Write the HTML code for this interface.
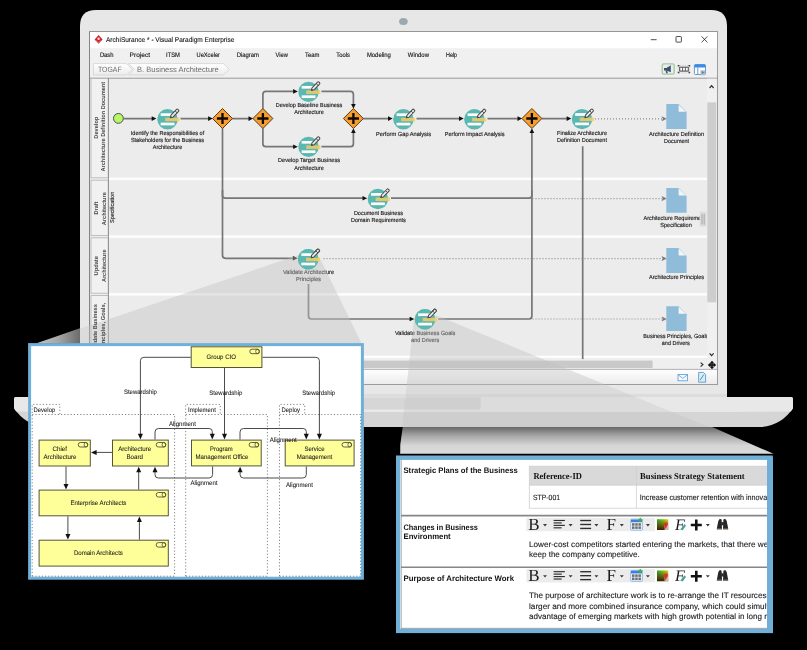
<!DOCTYPE html>
<html><head><meta charset="utf-8"><title>ArchiSurance - Visual Paradigm Enterprise</title>
<style>
html,body{margin:0;padding:0;background:#000;}
body{width:807px;height:650px;overflow:hidden;position:relative;font-family:"Liberation Sans",sans-serif;}
svg{position:absolute;left:0;top:0;display:block;will-change:transform;}
text{font-family:"Liberation Sans",sans-serif;fill:#222;text-rendering:geometricPrecision;}
.ser{font-family:"Liberation Serif",serif;}
.fl{fill:none;stroke:#767676;stroke-width:1.7;}
.dot{fill:none;stroke:#8c8c8c;stroke-width:1.2;stroke-dasharray:1 2;}
.lbl{font-size:5.9px;fill:#1a1a1a;stroke:#1a1a1a;stroke-width:0.14px;}
.lane{font-size:5.8px;font-weight:bold;fill:#4a4a4a;}
.lanen{font-size:5.7px;fill:#2a2a2a;stroke:#2a2a2a;stroke-width:0.12px;font-variant-ligatures:none;}
.menu{font-size:6.5px;fill:#111;stroke:#111;stroke-width:0.12px;}
.am{font-size:6.4px;fill:#1e1e1e;stroke:#1e1e1e;stroke-width:0.08px;}
.gdot{fill:none;stroke:#777;stroke-width:0.9;stroke-dasharray:1.2 2;}
.rl{fill:none;stroke:#4a4a4a;stroke-width:1;}
.pb{font-size:8px;font-weight:bold;fill:#111;}
.pt{font-size:8.04px;fill:#1c1c1c;stroke:#1c1c1c;stroke-width:0.12px;}
.ps{font-size:9px;font-weight:bold;fill:#111;font-family:"Liberation Serif",serif;}
</style></head><body>
<svg width="807" height="650" viewBox="0 0 807 650">
<defs>
<linearGradient id="gw1" x1="0" y1="0" x2="1" y2="0"><stop offset="0" stop-color="#c6c6c6"/><stop offset="0.5" stop-color="#a6a6a6"/><stop offset="1" stop-color="#6a6a6a"/></linearGradient>
<linearGradient id="gw2" x1="0" y1="0" x2="0" y2="1"><stop offset="0" stop-color="#646464"/><stop offset="0.35" stop-color="#a8a8a8"/><stop offset="0.7" stop-color="#d6d6d6"/><stop offset="1" stop-color="#dadada"/></linearGradient>
<linearGradient id="gst" x1="0" y1="0" x2="0" y2="1"><stop offset="0" stop-color="#ffffff"/><stop offset="1" stop-color="#ececec"/></linearGradient>
<linearGradient id="gbc" x1="0" y1="0" x2="0" y2="1"><stop offset="0" stop-color="#ffffff"/><stop offset="1" stop-color="#ececec"/></linearGradient>
<clipPath id="cpLaptop"><path d="M80,397 V26 Q80,10 96,10 H711 Q727,10 727,26 V397 H793 V408 Q782,425 761.6,427 H45.4 Q25,425 14,408 V397 Z"/></clipPath>
<clipPath id="cpWin"><rect x="89" y="31" width="629.5" height="354"/></clipPath>
<clipPath id="cpBezel"><path clip-rule="evenodd" d="M80,397 V26 Q80,10 96,10 H711 Q727,10 727,26 V397 H793 V408 Q782,425 761.6,427 H45.4 Q25,425 14,408 V397 Z M89,31 V385 H718.5 V31 Z"/></clipPath>
<clipPath id="cpHdr4"><rect x="91" y="296" width="17" height="63"/></clipPath>
<clipPath id="cpDiagram"><rect x="108.5" y="78.5" width="598.5" height="281"/></clipPath>
<clipPath id="cpP2"><rect x="401" y="459.5" width="366" height="169"/></clipPath>
<clipPath id="cpP1"><rect x="31" y="346" width="330" height="231"/></clipPath>
<g id="task">
  <circle cx="0" cy="0" r="10.2" fill="#5bb8b1"/>
  <rect x="-6.85" y="-5.95" width="13.8" height="2.7" fill="#fdfdfd"/>
  <rect x="-6.85" y="3.45" width="13.8" height="2.7" fill="#fdfdfd"/>
  <rect x="-2.25" y="-1.45" width="13.9" height="3.4" fill="#e3c76f"/>
  <rect x="10.2" y="-1.45" width="1.45" height="3.4" fill="#f3d862"/>
  <g transform="translate(2.95,-1.45) rotate(-46)">
    <path d="M0,0 L2.2,-1.4 L10.2,-1.4 Q11.2,-1.4 11.2,-0.6 L11.2,0.6 Q11.2,1.4 10.2,1.4 L2.2,1.4 Z" fill="#ececec" stroke="#484848" stroke-width="1" stroke-linejoin="round"/>
    <path d="M8.2,-1.4 V1.4" stroke="#484848" stroke-width="0.9" fill="none"/>
    <path d="M-0.3,0 L1.5,-1.0 L1.5,1.0 Z" fill="#484848"/>
  </g>
</g>
<g id="gate">
  <polygon points="0,-10 10,0 0,10 -10,0" fill="#f99d2c" stroke="#3f2c10" stroke-width="0.9" stroke-linejoin="miter"/>
  <path d="M-5.6,0 H5.6 M0,-5.6 V5.6" stroke="#0a0a0a" stroke-width="2.3" fill="none"/>
</g>
<g id="doc">
  <path d="M0,0 H12.3 L20.3,8 V24.9 H0 Z" fill="#8ebcd9"/>
  <path d="M12.3,0.6 V7.6 H19.6 Z" fill="#f3f6f8"/>
</g>
<g id="role">
  <rect x="0" y="0" width="9.6" height="4.5" rx="2.25" ry="2.25" fill="#ffffa6" stroke="#50502c" stroke-width="0.9"/>
  <ellipse cx="7.7" cy="2.25" rx="1.8" ry="2.25" fill="none" stroke="#50502c" stroke-width="0.8"/>
</g>
<g id="dd"><path d="M-2,-0.9 H2 L0,1.4 Z" fill="#3a3a3a"/></g>
</defs>

<polygon points="35.9,343.6 80.5,327.9 80.5,343.6" fill="url(#gw1)"/>
<polygon points="402.8,426.5 711,426.5 773.5,453.8 400.2,453.8 400.3,444.5" fill="url(#gw2)"/>
<path d="M80,398 V26 Q80,10 96,10 H711 Q727,10 727,26 V398 Z" fill="#e7e7e7"/>
<rect x="80" y="394" width="647" height="3" fill="#dddddd"/>
<ellipse cx="403.4" cy="21.5" rx="4.3" ry="3.5" fill="#9aa8b0"/>
<path d="M14,399 Q14,397 16,397 H791 Q793,397 793,399 V408 Q782,425 761.6,427 H45.4 Q25,425 14,408 Z" fill="#d5d5d5"/>
<path d="M14,399 Q14,397 16,397 H791 Q793,397 793,399 V408 Q792,410 790.8,411.6 L727,412 H80 L16.2,411.6 Q15,410 14,408 Z" fill="#e8e8e8"/>
<path d="M327,397.4 H480.6 V406.5 Q480.6,409.6 477.5,409.6 H330 Q327,409.6 327,406.5 Z" fill="#d6d6d6"/>
<rect x="89.5" y="31.5" width="628" height="353" fill="#f0f0f0" stroke="#868686" stroke-width="1"/>
<rect x="90" y="32" width="627.5" height="16.2" fill="#ffffff"/>
<g transform="translate(98.6,39.4)"><polygon points="0,-4.3 4,0 0,4.3 -4,0" fill="#d2232a"/><circle cx="0" cy="-0.6" r="1.2" fill="#fff" opacity="0.85"/><path d="M-2.6,1.2 L0,3.2 L2.6,1.2" stroke="#fff" stroke-width="0.5" fill="none" opacity="0.7"/></g>
<text x="106" y="42.1" textLength="128.4" lengthAdjust="spacingAndGlyphs" style="font-size:7px;fill:#141414;stroke:#141414;stroke-width:0.1px">ArchiSurance * - Visual Paradigm Enterprise</text>
<path d="M650.8,39.7 H656.6" stroke="#222" stroke-width="0.8"/>
<rect x="676" y="36.5" width="5.4" height="5.6" rx="0.7" fill="none" stroke="#222" stroke-width="0.8"/>
<path d="M701.6,36.4 L707.4,42.4 M707.4,36.4 L701.6,42.4" stroke="#222" stroke-width="0.8"/>
<text x="99.9" y="56.9" class="menu" textLength="13.6" lengthAdjust="spacingAndGlyphs">Dash</text>
<text x="129.6" y="56.9" class="menu" textLength="20.4" lengthAdjust="spacingAndGlyphs">Project</text>
<text x="166" y="56.9" class="menu" textLength="14" lengthAdjust="spacingAndGlyphs">ITSM</text>
<text x="196.5" y="56.9" class="menu" textLength="23.5" lengthAdjust="spacingAndGlyphs">UeXceler</text>
<text x="236.7" y="56.9" class="menu" textLength="22.3" lengthAdjust="spacingAndGlyphs">Diagram</text>
<text x="275.5" y="56.9" class="menu" textLength="12.3" lengthAdjust="spacingAndGlyphs">View</text>
<text x="305" y="56.9" class="menu" textLength="14.4" lengthAdjust="spacingAndGlyphs">Team</text>
<text x="336.3" y="56.9" class="menu" textLength="13.7" lengthAdjust="spacingAndGlyphs">Tools</text>
<text x="366.9" y="56.9" class="menu" textLength="24.0" lengthAdjust="spacingAndGlyphs">Modeling</text>
<text x="407.8" y="56.9" class="menu" textLength="21.2" lengthAdjust="spacingAndGlyphs">Window</text>
<text x="446" y="56.9" class="menu" textLength="11.1" lengthAdjust="spacingAndGlyphs">Help</text>
<path d="M93.5,63.6 H126.5 L132.2,69.3 L126.5,75 H93.5 Z" fill="url(#gbc)" stroke="#cfcfcf" stroke-width="0.7"/>
<path d="M128.5,63.6 H223.5 L229.3,69.3 L223.5,75 H128.5 L134.2,69.3 Z" fill="url(#gbc)" stroke="#cfcfcf" stroke-width="0.7"/>
<text x="97.9" y="72.4" textLength="23.8" lengthAdjust="spacingAndGlyphs" style="font-size:7.7px;fill:#6c6c6c">TOGAF</text>
<text x="137" y="72.4" textLength="81.8" lengthAdjust="spacingAndGlyphs" style="font-size:7.7px;fill:#6c6c6c">B. Business Architecture</text>
<rect x="662.2" y="63.9" width="12" height="10.2" rx="1.6" fill="#e9eee9" stroke="#a3c9a3" stroke-width="1.4"/>
<path d="M664,68 H666.4 L670.8,65.3 V72.2 L666.4,70.4 H664 Z" fill="#3c5174"/><path d="M665.4,70.2 L666.2,73.2 H667.8 L667.2,70.4 Z" fill="#3c5174"/>
<rect x="678.3" y="65.3" width="11.3" height="7.6" fill="none" stroke="#b8b8b8" stroke-width="0.7" stroke-dasharray="1 1.2"/>
<path d="M678.3,66.5 V65.5 H679.4 M688.5,65.5 H689.6 V66.5 M689.6,71.8 V72.8 H688.5 M679.4,72.8 H678.3 V71.8" fill="none" stroke="#3a3a3a" stroke-width="1.1"/>
<rect x="679.7" y="67.2" width="8.6" height="3.9" fill="#fff" stroke="#555" stroke-width="1.1"/><path d="M682.6,67.2 V71.1 M685.4,67.2 V71.1" stroke="#555" stroke-width="0.9"/>
<rect x="694.4" y="64.7" width="11.1" height="9.8" rx="0.9" fill="#fdfdfd" stroke="#5b90c0" stroke-width="0.9"/><path d="M694.4,67.6 V65.6 Q694.4,64.3 695.7,64.3 H704.2 Q705.5,64.3 705.5,65.6 V67.6 Z" fill="#3b8bea"/><path d="M697.8,67.6 V74.4" stroke="#5b90c0" stroke-width="0.9"/><rect x="700.4" y="70.3" width="4.8" height="5" fill="#b4bcc6"/><path d="M701.9,70.9 L704.6,72.5 L701.9,74.1 Z" fill="#4a86d6"/>
<rect x="90.5" y="78" width="626.5" height="281.5" fill="#ececec"/>
<rect x="90.3" y="78" width="18.2" height="281.5" fill="#ededed"/>
<path d="M89.5,78.2 H717" stroke="#9a9a9a" stroke-width="1"/>
<rect x="108.5" y="177.6" width="598.5" height="2.6" fill="#fdfdfd"/>
<rect x="108.5" y="235.29999999999998" width="598.5" height="2.6" fill="#fdfdfd"/>
<rect x="108.5" y="293.09999999999997" width="598.5" height="2.6" fill="#fdfdfd"/>
<rect x="108.5" y="355.7" width="598.5" height="2.5" fill="#fdfdfd"/>
<rect x="91" y="78.6" width="17.3" height="99.2" fill="#f1f1f1" stroke="#b4b4b4" stroke-width="0.8"/>
<rect x="91" y="180.2" width="17.3" height="55.2" fill="#f1f1f1" stroke="#b4b4b4" stroke-width="0.8"/>
<rect x="91" y="237.8" width="17.3" height="55.4" fill="#f1f1f1" stroke="#b4b4b4" stroke-width="0.8"/>
<rect x="91" y="295.6" width="17.3" height="63.4" fill="#f1f1f1" stroke="#b4b4b4" stroke-width="0.8"/>
<path d="M108.4,78 V359.5" stroke="#8e8e8e" stroke-width="1"/>
<text class="lane" text-anchor="middle" transform="translate(97.8,127.7) rotate(-90)" textLength="22" lengthAdjust="spacingAndGlyphs">Develop</text>
<text class="lane" text-anchor="middle" transform="translate(105.4,126.7) rotate(-90)" textLength="89.6" lengthAdjust="spacingAndGlyphs">Architecture Definition Document</text>
<text class="lane" text-anchor="middle" transform="translate(97.8,208) rotate(-90)" textLength="12.8" lengthAdjust="spacingAndGlyphs">Draft</text>
<text class="lane" text-anchor="middle" transform="translate(105.6,208.7) rotate(-90)" textLength="33" lengthAdjust="spacingAndGlyphs">Architecture</text>
<text class="lanen" text-anchor="middle" transform="translate(113.9,207.4) rotate(-90)" textLength="31.3" lengthAdjust="spacingAndGlyphs">Specification</text>
<text class="lane" text-anchor="middle" transform="translate(97.8,265.8) rotate(-90)" textLength="19.4" lengthAdjust="spacingAndGlyphs">Update</text>
<text class="lane" text-anchor="middle" transform="translate(105.6,265.8) rotate(-90)" textLength="32.6" lengthAdjust="spacingAndGlyphs">Architecture</text>
<g clip-path="url(#cpDiagram)">
<path class="fl" d="M123.60,118.60 L152.70,118.60"/><polygon points="156.40,118.60 151.70,120.90 151.70,116.30" fill="#111"/>
<path class="fl" d="M180.50,118.60 L209.10,118.60"/><polygon points="212.80,118.60 208.10,120.90 208.10,116.30" fill="#111"/>
<path class="fl" d="M232.30,118.60 L249.50,118.60"/><polygon points="253.20,118.60 248.50,120.90 248.50,116.30" fill="#111"/>
<path class="fl" d="M262.90,108.70 L262.90,94.40 Q262.90,91.40 265.90,91.40 L294.10,91.40"/><polygon points="297.80,91.40 293.10,93.70 293.10,89.10" fill="#111"/>
<path class="fl" d="M321.50,91.40 L350.40,91.40 Q353.40,91.40 353.40,94.40 L353.40,105.00"/><polygon points="353.40,108.70 351.10,104.00 355.70,104.00" fill="#111"/>
<path class="fl" d="M262.90,128.30 L262.90,143.70 Q262.90,146.70 265.90,146.70 L294.10,146.70"/><polygon points="297.80,146.70 293.10,149.00 293.10,144.40" fill="#111"/>
<path class="fl" d="M321.50,146.70 L350.40,146.70 Q353.40,146.70 353.40,143.70 L353.40,132.00"/><polygon points="353.40,128.30 355.70,133.00 351.10,133.00" fill="#111"/>
<path class="fl" d="M363.20,118.60 L389.00,118.60"/><polygon points="392.70,118.60 388.00,120.90 388.00,116.30" fill="#111"/>
<path class="fl" d="M416.50,118.60 L460.00,118.60"/><polygon points="463.70,118.60 459.00,120.90 459.00,116.30" fill="#111"/>
<path class="fl" d="M487.50,118.60 L518.50,118.60"/><polygon points="522.20,118.60 517.50,120.90 517.50,116.30" fill="#111"/>
<path class="fl" d="M541.70,118.60 L567.60,118.60"/><polygon points="571.30,118.60 566.60,120.90 566.60,116.30" fill="#111"/>
<path class="fl" d="M222.50,128.30 L222.50,195.20 Q222.50,198.20 225.50,198.20 L363.50,198.20"/><polygon points="367.20,198.20 362.50,200.50 362.50,195.90" fill="#111"/>
<path class="fl" d="M222.50,190.00 L222.50,255.30 Q222.50,258.30 225.50,258.30 L293.90,258.30"/><polygon points="297.60,258.30 292.90,260.60 292.90,256.00" fill="#111"/>
<path class="fl" d="M391.00,198.20 L528.90,198.20 Q531.90,198.20 531.90,195.20 L531.90,132.00"/><polygon points="531.90,128.30 534.20,133.00 529.60,133.00" fill="#111"/>
<path class="fl" d="M308.50,284.00 L308.50,316.00 Q308.50,319.00 311.50,319.00 L410.60,319.00"/><polygon points="414.30,319.00 409.60,321.30 409.60,316.70" fill="#111"/>
<path class="fl" d="M438.20,319.00 L528.90,319.00 Q531.90,319.00 531.90,316.00 L531.90,190.00"/>
<path class="fl" d="M582.70,146.30 L582.70,359.50"/>
<path class="dot" d="M595,118.8 H663.3"/><path d="M661.9,116.8 L666.0999999999999,118.8 L661.9,120.8 L663.3,118.8 Z" fill="#777" stroke="#666" stroke-width="0.5"/>
<path class="dot" d="M532.5,198.6 H663.3"/><path d="M661.9,196.6 L666.0999999999999,198.6 L661.9,200.6 L663.3,198.6 Z" fill="#777" stroke="#666" stroke-width="0.5"/>
<path class="dot" d="M323.5,258.6 H663.3"/><path d="M661.9,256.6 L666.0999999999999,258.6 L661.9,260.6 L663.3,258.6 Z" fill="#777" stroke="#666" stroke-width="0.5"/>
<path class="dot" d="M532.5,319 H663.3"/><path d="M661.9,317 L666.0999999999999,319 L661.9,321 L663.3,319 Z" fill="#777" stroke="#666" stroke-width="0.5"/>
<circle cx="118.4" cy="118.4" r="4.9" fill="#b8f76c" stroke="#46553a" stroke-width="1"/>
<use href="#task" x="167.5" y="119.2"/>
<use href="#task" x="308.5" y="91.9"/>
<use href="#task" x="308.5" y="146.9"/>
<use href="#task" x="403.4" y="119.3"/>
<use href="#task" x="474.4" y="119.3"/>
<use href="#task" x="582" y="119.1"/>
<use href="#task" x="377.9" y="199"/>
<use href="#task" x="308.2" y="259.2"/>
<use href="#task" x="425" y="319.3"/>
<use href="#gate" x="222.5" y="118.5"/>
<use href="#gate" x="262.9" y="118.5"/>
<use href="#gate" x="353.4" y="118.5"/>
<use href="#gate" x="531.9" y="118.5"/>
<use href="#doc" x="666.3" y="104.1"/>
<use href="#doc" x="666.3" y="187.9"/>
<use href="#doc" x="666.3" y="248"/>
<use href="#doc" x="666.3" y="306.2"/>
<text x="167.5" y="134.5" class="lbl" text-anchor="middle" textLength="73.4" lengthAdjust="spacingAndGlyphs">Identify the Responsibilities of</text><text x="167.5" y="141.55" class="lbl" text-anchor="middle" textLength="73.2" lengthAdjust="spacingAndGlyphs">Stakeholders for the Business</text><text x="167.5" y="148.6" class="lbl" text-anchor="middle" textLength="29.4" lengthAdjust="spacingAndGlyphs">Architecture</text>
<text x="309" y="106.8" class="lbl" text-anchor="middle" textLength="66.5" lengthAdjust="spacingAndGlyphs">Develop Baseline Business</text><text x="309" y="114.05" class="lbl" text-anchor="middle" textLength="29.4" lengthAdjust="spacingAndGlyphs">Architecture</text>
<text x="309" y="162.3" class="lbl" text-anchor="middle" textLength="62" lengthAdjust="spacingAndGlyphs">Develop Target Business</text><text x="309" y="169.55" class="lbl" text-anchor="middle" textLength="29.4" lengthAdjust="spacingAndGlyphs">Architecture</text>
<text x="403.5" y="135.5" class="lbl" text-anchor="middle" textLength="55" lengthAdjust="spacingAndGlyphs">Perform Gap Analysis</text>
<text x="474.7" y="135.5" class="lbl" text-anchor="middle" textLength="59.7" lengthAdjust="spacingAndGlyphs">Perform Impact Analysis</text>
<text x="582" y="134.5" class="lbl" text-anchor="middle" textLength="50" lengthAdjust="spacingAndGlyphs">Finalize Architecture</text><text x="582" y="141.5" class="lbl" text-anchor="middle" textLength="50" lengthAdjust="spacingAndGlyphs">Definition Document</text>
<text x="378.4" y="214.6" class="lbl" text-anchor="middle" textLength="49" lengthAdjust="spacingAndGlyphs">Document Business</text><text x="378.4" y="221.6" class="lbl" text-anchor="middle" textLength="55" lengthAdjust="spacingAndGlyphs">Domain Requirements</text>
<text x="308.5" y="273.6" class="lbl" text-anchor="middle" textLength="51" lengthAdjust="spacingAndGlyphs">Validate Architecture</text><text x="308.5" y="280.85" class="lbl" text-anchor="middle" textLength="25" lengthAdjust="spacingAndGlyphs">Principles</text>
<text x="425.2" y="334.9" class="lbl" text-anchor="middle" textLength="60.5" lengthAdjust="spacingAndGlyphs">Validate Business Goals</text><text x="425.2" y="342.15" class="lbl" text-anchor="middle" textLength="28" lengthAdjust="spacingAndGlyphs">and Drivers</text>
<text x="676.6" y="135.8" class="lbl" text-anchor="middle" textLength="55" lengthAdjust="spacingAndGlyphs">Architecture Definition</text><text x="676.6" y="142.8" class="lbl" text-anchor="middle" textLength="25" lengthAdjust="spacingAndGlyphs">Document</text>
<text x="676" y="219.8" class="lbl" text-anchor="middle" textLength="65" lengthAdjust="spacingAndGlyphs">Architecture Requirements</text><text x="676" y="226.6" class="lbl" text-anchor="middle" textLength="31.5" lengthAdjust="spacingAndGlyphs">Specification</text>
<text x="676.6" y="279.3" class="lbl" text-anchor="middle" textLength="55" lengthAdjust="spacingAndGlyphs">Architecture Principles</text>
<text x="675.8" y="337.8" class="lbl" text-anchor="middle" textLength="65.2" lengthAdjust="spacingAndGlyphs">Business Principles, Goals</text><text x="675.8" y="345.05" class="lbl" text-anchor="middle" textLength="28" lengthAdjust="spacingAndGlyphs">and Drivers</text>
</g>
<rect x="699.8" y="211.6" width="7.2" height="15" fill="#ececec"/><rect x="699.8" y="211.6" width="6.6" height="15" fill="#dcdcdc"/><path d="M702,214 V224.5 M704.2,214 V224.5" stroke="#9a9a9a" stroke-width="0.8"/>
<rect x="707" y="78.7" width="9.5" height="281" fill="#f0f0f0"/>
<rect x="707.3" y="102.3" width="8.9" height="200" fill="#cdcdcd"/>
<path d="M709.6,88 L711.6,85.7 L713.6,88" fill="none" stroke="#2a2a2a" stroke-width="1.15"/>
<path d="M709.6,353.3 L711.6,355.6 L713.6,353.3" fill="none" stroke="#2a2a2a" stroke-width="1.15"/>
<rect x="90" y="359.4" width="627" height="10" fill="#efefef"/>
<rect x="120" y="360.6" width="532.6" height="7.4" fill="#c9c9c9"/>
<path d="M700.6,362.6 L702.9,364.6 L700.6,366.6" fill="none" stroke="#2a2a2a" stroke-width="1.15"/>
<g transform="translate(712,365)"><path d="M0,-4.2 L2,-2 H-2 Z M0,4.2 L2,2 H-2 Z M-4.2,0 L-2,-2 V2 Z M4.2,0 L2,-2 V2 Z" fill="#111"/><path d="M0,-2.4 V2.4 M-2.4,0 H2.4" stroke="#111" stroke-width="1.3"/><rect x="-1.6" y="-1.6" width="3.2" height="3.2" fill="none" stroke="#111" stroke-width="0.6"/></g>
<rect x="90" y="369.4" width="627.5" height="14.6" fill="url(#gst)"/>
<path d="M90,369.4 H717.5" stroke="#a8a8b0" stroke-width="0.9"/>
<g fill="none" stroke="#5b9bd5" stroke-width="0.8"><rect x="678" y="374.4" width="9.6" height="6.4" fill="#f4f9ff"/><path d="M678,374.6 L682.8,378.4 L687.6,374.6"/></g>
<g><path d="M698.6,372.4 H703.4 L705.6,374.6 V382.2 H698.6 Z" fill="#dce9f7" stroke="#4f8fd0" stroke-width="0.8"/><path d="M700.2,380 L703.8,374.6" stroke="#2f9a8a" stroke-width="0.9"/></g>
<path d="M89.5,384.5 V31.5" fill="none" stroke="#858585" stroke-width="1"/><path d="M89.5,31.5 H717.5" fill="none" stroke="#959595" stroke-width="1"/><path d="M717.5,31.5 V384.5 H89.5" fill="none" stroke="#9c9c9c" stroke-width="1"/>
<g clip-path="url(#cpWin)" fill="rgb(192,192,192)" fill-opacity="0.42">
<polygon points="298,255.3 35.9,343.6 361.6,343.6 320.6,259.4"/><polygon points="414,318 400.3,444.5 400.2,454 773.5,453.6 436.5,315.4"/>
</g>
<g clip-path="url(#cpBezel)" fill="rgb(192,192,192)" fill-opacity="0.30">
<polygon points="298,255.3 35.9,343.6 361.6,343.6 320.6,259.4"/><polygon points="414,318 400.3,444.5 400.2,454 773.5,453.6 436.5,315.4"/>
</g>
<g clip-path="url(#cpHdr4)">
<text class="lane" text-anchor="middle" transform="translate(97.4,328.1) rotate(-90)" textLength="48" lengthAdjust="spacingAndGlyphs">Validate Business</text>
<text class="lane" text-anchor="middle" transform="translate(105.2,326.8) rotate(-90)" textLength="48" lengthAdjust="spacingAndGlyphs">Principles, Goals,</text>
</g>
<use href="#task" x="308.2" y="259.2"/>
<use href="#task" x="425" y="319.3"/>
<rect x="29.6" y="344.6" width="332.8" height="233.6" fill="#ffffff" stroke="#70b0d8" stroke-width="3"/>
<g clip-path="url(#cpP1)">
<path class="gdot" d="M32.2,576.2 V404.4 H59.800000000000004 V414.5 M32.2,414.5 H174.6 V576.2 M32.2,576.2 H174.6"/><text x="33.6" y="412.2" class="am" textLength="21.6" lengthAdjust="spacingAndGlyphs">Develop</text>
<path class="gdot" d="M185.7,576.2 V404.4 H220.29999999999998 V414.5 M185.7,414.5 H267.4 V576.2 M185.7,576.2 H267.4"/><text x="188" y="412.2" class="am" textLength="27.8" lengthAdjust="spacingAndGlyphs">Implement</text>
<path class="gdot" d="M279.5,576.2 V404.4 H304.7 V414.5 M279.5,414.5 H360.6 V576.2 M279.5,576.2 H360.6"/><text x="281.5" y="412.2" class="am" textLength="18.5" lengthAdjust="spacingAndGlyphs">Deploy</text>
<path class="rl" d="M190.80,357.30 L143.90,357.30 Q140.40,357.30 140.40,360.80 L140.40,434.80"/><polygon points="140.40,439.40 137.90,433.80 142.90,433.80" fill="#111"/>
<path class="rl" d="M224.50,368.00 L224.50,434.80"/><polygon points="224.50,439.40 222.00,433.80 227.00,433.80" fill="#111"/>
<path class="rl" d="M262.40,357.30 L315.90,357.30 Q319.40,357.30 319.40,360.80 L319.40,434.80"/><polygon points="319.40,439.40 316.90,433.80 321.90,433.80" fill="#111"/>
<path class="rl" d="M112.00,452.40 L95.60,452.40"/><polygon points="91.00,452.40 96.60,449.90 96.60,454.90" fill="#111"/>
<path class="rl" d="M155.00,439.60 L155.00,432.00 Q155.00,428.50 158.50,428.50 L209.15,428.50 Q212.30,428.50 212.30,431.65 L212.30,434.80"/><polygon points="212.30,439.40 209.80,433.80 214.80,433.80" fill="#111"/>
<path class="rl" d="M240.00,439.60 L240.00,432.00 Q240.00,428.50 243.50,428.50 L303.15,428.50 Q306.30,428.50 306.30,431.65 L306.30,434.80"/><polygon points="306.30,439.40 303.80,433.80 308.80,433.80" fill="#111"/>
<path class="rl" d="M212.60,466.40 L212.60,474.50 Q212.60,478.00 209.10,478.00 L158.35,478.00 Q155.00,478.00 155.00,474.65 L155.00,471.30"/><polygon points="155.00,466.70 157.50,472.30 152.50,472.30" fill="#111"/>
<path class="rl" d="M306.30,466.40 L306.30,474.50 Q306.30,478.00 302.80,478.00 L243.45,478.00 Q240.10,478.00 240.10,474.65 L240.10,471.30"/><polygon points="240.10,466.70 242.60,472.30 237.60,472.30" fill="#111"/>
<path class="rl" d="M66.00,466.50 L66.00,484.90"/><polygon points="66.00,489.50 63.50,483.90 68.50,483.90" fill="#111"/>
<path class="rl" d="M138.70,489.60 L138.70,471.30"/><polygon points="138.70,466.70 141.20,472.30 136.20,472.30" fill="#111"/>
<path class="rl" d="M67.90,516.30 L67.90,535.00"/><polygon points="67.90,539.60 65.40,534.00 70.40,534.00" fill="#111"/>
<path class="rl" d="M139.40,539.70 L139.40,521.10"/><polygon points="139.40,516.50 141.90,522.10 136.90,522.10" fill="#111"/>
<rect x="191.2" y="346.8" width="70.7" height="20.7" fill="#ffff99" stroke="#54543a" stroke-width="1"/><use href="#role" x="249.8" y="349.2"/>
<rect x="39.1" y="440.1" width="51.2" height="25.9" fill="#ffff99" stroke="#54543a" stroke-width="1"/><use href="#role" x="78.2" y="442.5"/>
<rect x="112.5" y="440.1" width="55.8" height="25.9" fill="#ffff99" stroke="#54543a" stroke-width="1"/><use href="#role" x="156.2" y="442.5"/>
<rect x="39.1" y="490.1" width="129.2" height="25.7" fill="#ffff99" stroke="#54543a" stroke-width="1"/><use href="#role" x="156.2" y="492.5"/>
<rect x="39.1" y="540.2" width="129.2" height="25.9" fill="#ffff99" stroke="#54543a" stroke-width="1"/><use href="#role" x="156.2" y="542.6"/>
<rect x="191.5" y="440.1" width="69.7" height="25.8" fill="#ffff99" stroke="#54543a" stroke-width="1"/><use href="#role" x="249.1" y="442.5"/>
<rect x="285.2" y="440.1" width="68.9" height="25.8" fill="#ffff99" stroke="#54543a" stroke-width="1"/><use href="#role" x="342.0" y="442.5"/>
<text x="221.3" y="359.1" class="am" text-anchor="middle" textLength="29.5" lengthAdjust="spacingAndGlyphs">Group CIO</text>
<text x="59.8" y="450.8" class="am" text-anchor="middle" textLength="14.5" lengthAdjust="spacingAndGlyphs">Chief</text>
<text x="60" y="459.2" class="am" text-anchor="middle" textLength="33" lengthAdjust="spacingAndGlyphs">Architecture</text>
<text x="134.7" y="450.8" class="am" text-anchor="middle" textLength="33" lengthAdjust="spacingAndGlyphs">Architecture</text>
<text x="134.7" y="459.2" class="am" text-anchor="middle" textLength="16.5" lengthAdjust="spacingAndGlyphs">Board</text>
<text x="98.4" y="504.9" class="am" text-anchor="middle" textLength="56" lengthAdjust="spacingAndGlyphs">Enterprise Architects</text>
<text x="98.4" y="555" class="am" text-anchor="middle" textLength="49" lengthAdjust="spacingAndGlyphs">Domain Architects</text>
<text x="221.3" y="451" class="am" text-anchor="middle" textLength="22.5" lengthAdjust="spacingAndGlyphs">Program</text>
<text x="222" y="459.2" class="am" text-anchor="middle" textLength="53" lengthAdjust="spacingAndGlyphs">Management Office</text>
<text x="314.5" y="451" class="am" text-anchor="middle" textLength="20" lengthAdjust="spacingAndGlyphs">Service</text>
<text x="314.5" y="459.2" class="am" text-anchor="middle" textLength="35.5" lengthAdjust="spacingAndGlyphs">Management</text>
<text x="140.4" y="393.8" class="am" text-anchor="middle" textLength="33" lengthAdjust="spacingAndGlyphs">Stewardship</text>
<text x="225.8" y="394.5" class="am" text-anchor="middle" textLength="33" lengthAdjust="spacingAndGlyphs">Stewardship</text>
<text x="318.7" y="395" class="am" text-anchor="middle" textLength="33" lengthAdjust="spacingAndGlyphs">Stewardship</text>
<text x="182.4" y="426.4" class="am" text-anchor="middle" textLength="27" lengthAdjust="spacingAndGlyphs">Alignment</text>
<text x="283.3" y="441.6" class="am" text-anchor="middle" textLength="27" lengthAdjust="spacingAndGlyphs">Alignment</text>
<text x="204" y="485.4" class="am" text-anchor="middle" textLength="27" lengthAdjust="spacingAndGlyphs">Alignment</text>
<text x="299.4" y="487.1" class="am" text-anchor="middle" textLength="27" lengthAdjust="spacingAndGlyphs">Alignment</text>
</g>
<rect x="398.2" y="457.7" width="372.4" height="173.2" fill="#ffffff" stroke="#70b0d8" stroke-width="4.4"/>
<rect x="767" y="457" width="6" height="176" fill="#70b0d8"/>
<g clip-path="url(#cpP2)">
<path d="M400.9,459.5 V628.6 M400.4,628.4 H767" stroke="#666" stroke-width="1" fill="none"/>
<path d="M400.4,515.6 H767 M400.4,567.3 H767" stroke="#868686" stroke-width="1.6" fill="none"/>
<text x="403.5" y="473.4" class="pb" textLength="114.2" lengthAdjust="spacingAndGlyphs">Strategic Plans of the Business</text>
<rect x="529.3" y="466.2" width="260" height="19" fill="#d9d9d9"/>
<rect x="529.3" y="466.2" width="260" height="42" fill="none" stroke="#cfcfcf" stroke-width="0.8"/>
<path d="M636.4,466.2 V508.2 M529.3,485.2 H789" stroke="#cfcfcf" stroke-width="0.8"/>
<text x="533.4" y="478.8" class="ps" textLength="48.5" lengthAdjust="spacingAndGlyphs">Reference-ID</text>
<text x="640.1" y="478.8" class="ps" textLength="104.6" lengthAdjust="spacingAndGlyphs">Business Strategy Statement</text>
<text x="533" y="500" textLength="27" lengthAdjust="spacingAndGlyphs" style="font-size:7.6px;fill:#1c1c1c;stroke:#1c1c1c;stroke-width:0.12px">STP-001</text>
<text x="639.8" y="500" textLength="138.6" lengthAdjust="spacingAndGlyphs" style="font-size:7.8px;fill:#1c1c1c;stroke:#1c1c1c;stroke-width:0.12px">Increase customer retention with innovative</text>
<defs><linearGradient id="gcol" x1="0" y1="0" x2="1" y2="0"><stop offset="0" stop-color="#2fae2f"/><stop offset="0.55" stop-color="#8cc820"/><stop offset="1" stop-color="#e6dc1e"/></linearGradient><linearGradient id="gcol2" x1="0" y1="0" x2="0" y2="1"><stop offset="0" stop-color="#501800" stop-opacity="0"/><stop offset="0.5" stop-color="#5a2000" stop-opacity="0.55"/><stop offset="1" stop-color="#3c1200" stop-opacity="0.95"/></linearGradient></defs>
<rect x="526.4" y="518" width="128.4" height="13.2" fill="#ececec"/><text x="528.2" y="530.2" class="ser" style="font-size:17px;fill:#1a1a1a">B</text><use href="#dd" x="545" y="525.0"/><rect x="553.6" y="519.90" width="11.3" height="1.15" fill="#2e2e2e"/><rect x="553.6" y="522.35" width="8.2" height="1.15" fill="#2e2e2e"/><rect x="553.6" y="524.80" width="11.3" height="1.15" fill="#2e2e2e"/><rect x="553.6" y="527.25" width="8" height="1.15" fill="#2e2e2e"/><use href="#dd" x="570.6" y="525.0"/><rect x="580.2" y="519.85" width="10.9" height="1.35" fill="#2e2e2e"/><rect x="580.2" y="523.80" width="10.9" height="1.35" fill="#2e2e2e"/><rect x="580.2" y="527.75" width="10.9" height="1.35" fill="#2e2e2e"/><use href="#dd" x="596.4" y="525.0"/><text x="606.6" y="530.2" class="ser" style="font-size:17px;fill:#1a1a1a">F</text><use href="#dd" x="621.8" y="525.0"/><rect x="630.6" y="519.2" width="11.8" height="11" rx="1.2" fill="#e9f1fb" stroke="#8fb9e6" stroke-width="0.9"/><rect x="631.0" y="519.6" width="11" height="2.6" fill="#3d7fd9"/><rect x="632.0" y="523.2" width="2.5" height="2.5" fill="#6f6f6f"/><rect x="635.2" y="523.2" width="2.5" height="2.5" fill="#6f6f6f"/><rect x="638.4" y="523.2" width="2.5" height="2.5" fill="#6f6f6f"/><rect x="632.0" y="526.4" width="2.5" height="2.5" fill="#6f6f6f"/><rect x="635.2" y="526.4" width="2.5" height="2.5" fill="#6f6f6f"/><rect x="638.4" y="526.4" width="2.5" height="2.5" fill="#6f6f6f"/><path d="M638.0,519.8 H642.6 M640.3000000000001,517.8 V522.0" stroke="#3fb34a" stroke-width="1.3"/><use href="#dd" x="647.9" y="525.0"/><rect x="657" y="519.2" width="11.2" height="10.8" fill="url(#gcol)"/><rect x="657" y="519.2" width="11.2" height="10.8" fill="url(#gcol2)"/><rect x="664.6" y="525.0" width="3.6" height="5" fill="#d8d8d8" opacity="0.85"/><path d="M665.6,529.0 L664.2,525.2 Q664,522.4 666,522.4 Q668,522.4 667.6,525.0 Z" fill="#e12d2d"/><text x="675" y="529.8" class="ser" style="font-size:16px;font-style:italic;fill:#1a1a1a">F</text><path d="M680.2,529.4 L684.6,524.0 L686,525.8 L682.6,530.2 Z" fill="#49a39a"/><path d="M690.8,525.0 H701.8 M696.3,519.5 V530.5" stroke="#111" stroke-width="2.6"/><use href="#dd" x="707.8" y="525.0"/><path d="M719.8000000000001,518.7 L721.6,519.5 L722.0,529.3 H716.7 L718.3000000000001,520.9 Z" fill="#262626"/><path d="M725.2,518.7 L723.4000000000001,519.5 L723.0,529.3 H728.3000000000001 L726.7,520.9 Z" fill="#262626"/><rect x="721.3000000000001" y="522.1" width="2.4" height="3.2" fill="#262626"/><rect x="717.0" y="528.1" width="4.8" height="1.2" fill="#6a5a4a"/><rect x="723.2" y="528.1" width="4.8" height="1.2" fill="#6a5a4a"/>
<rect x="526.4" y="569.2" width="128.4" height="13.2" fill="#ececec"/><text x="528.2" y="581.4000000000001" class="ser" style="font-size:17px;fill:#1a1a1a">B</text><use href="#dd" x="545" y="576.2"/><rect x="553.6" y="571.10" width="11.3" height="1.15" fill="#2e2e2e"/><rect x="553.6" y="573.55" width="8.2" height="1.15" fill="#2e2e2e"/><rect x="553.6" y="576.00" width="11.3" height="1.15" fill="#2e2e2e"/><rect x="553.6" y="578.45" width="8" height="1.15" fill="#2e2e2e"/><use href="#dd" x="570.6" y="576.2"/><rect x="580.2" y="571.05" width="10.9" height="1.35" fill="#2e2e2e"/><rect x="580.2" y="575.00" width="10.9" height="1.35" fill="#2e2e2e"/><rect x="580.2" y="578.95" width="10.9" height="1.35" fill="#2e2e2e"/><use href="#dd" x="596.4" y="576.2"/><text x="606.6" y="581.4000000000001" class="ser" style="font-size:17px;fill:#1a1a1a">F</text><use href="#dd" x="621.8" y="576.2"/><rect x="630.6" y="570.4" width="11.8" height="11" rx="1.2" fill="#e9f1fb" stroke="#8fb9e6" stroke-width="0.9"/><rect x="631.0" y="570.8" width="11" height="2.6" fill="#3d7fd9"/><rect x="632.0" y="574.4" width="2.5" height="2.5" fill="#6f6f6f"/><rect x="635.2" y="574.4" width="2.5" height="2.5" fill="#6f6f6f"/><rect x="638.4" y="574.4" width="2.5" height="2.5" fill="#6f6f6f"/><rect x="632.0" y="577.6" width="2.5" height="2.5" fill="#6f6f6f"/><rect x="635.2" y="577.6" width="2.5" height="2.5" fill="#6f6f6f"/><rect x="638.4" y="577.6" width="2.5" height="2.5" fill="#6f6f6f"/><path d="M638.0,571.0 H642.6 M640.3000000000001,569.0 V573.2" stroke="#3fb34a" stroke-width="1.3"/><use href="#dd" x="647.9" y="576.2"/><rect x="657" y="570.4" width="11.2" height="10.8" fill="url(#gcol)"/><rect x="657" y="570.4" width="11.2" height="10.8" fill="url(#gcol2)"/><rect x="664.6" y="576.2" width="3.6" height="5" fill="#d8d8d8" opacity="0.85"/><path d="M665.6,580.2 L664.2,576.4 Q664,573.6 666,573.6 Q668,573.6 667.6,576.2 Z" fill="#e12d2d"/><text x="675" y="581.0" class="ser" style="font-size:16px;font-style:italic;fill:#1a1a1a">F</text><path d="M680.2,580.6 L684.6,575.2 L686,577.0 L682.6,581.4 Z" fill="#49a39a"/><path d="M690.8,576.2 H701.8 M696.3,570.7 V581.7" stroke="#111" stroke-width="2.6"/><use href="#dd" x="707.8" y="576.2"/><path d="M719.8000000000001,569.9 L721.6,570.7 L722.0,580.5 H716.7 L718.3000000000001,572.1 Z" fill="#262626"/><path d="M725.2,569.9 L723.4000000000001,570.7 L723.0,580.5 H728.3000000000001 L726.7,572.1 Z" fill="#262626"/><rect x="721.3000000000001" y="573.3" width="2.4" height="3.2" fill="#262626"/><rect x="717.0" y="579.3" width="4.8" height="1.2" fill="#6a5a4a"/><rect x="723.2" y="579.3" width="4.8" height="1.2" fill="#6a5a4a"/>
<text x="403.5" y="530.3" class="pb" textLength="74.4" lengthAdjust="spacingAndGlyphs">Changes in Business</text>
<text x="403.5" y="539.4" class="pb" textLength="47.2" lengthAdjust="spacingAndGlyphs">Environment</text>
<text x="529" y="546.6" class="pt" textLength="246.5" lengthAdjust="spacingAndGlyphs">Lower-cost competitors started entering the markets, that there were</text>
<text x="529" y="557.3" class="pt" textLength="110.8" lengthAdjust="spacingAndGlyphs">keep the company competitive.</text>
<text x="403.5" y="580.9" class="pb" textLength="110.5" lengthAdjust="spacingAndGlyphs">Purpose of Architecture Work</text>
<text x="529" y="597.8" class="pt" textLength="246.6" lengthAdjust="spacingAndGlyphs">The purpose of architecture work is to re-arrange the IT resources of</text>
<text x="529" y="608.5" class="pt" textLength="272.6" lengthAdjust="spacingAndGlyphs">larger and more combined insurance company, which could simultaneously</text>
<text x="529" y="619.2" class="pt" textLength="247" lengthAdjust="spacingAndGlyphs">advantage of emerging markets with high growth potential in long run</text>
</g>
</svg>
</body></html>
